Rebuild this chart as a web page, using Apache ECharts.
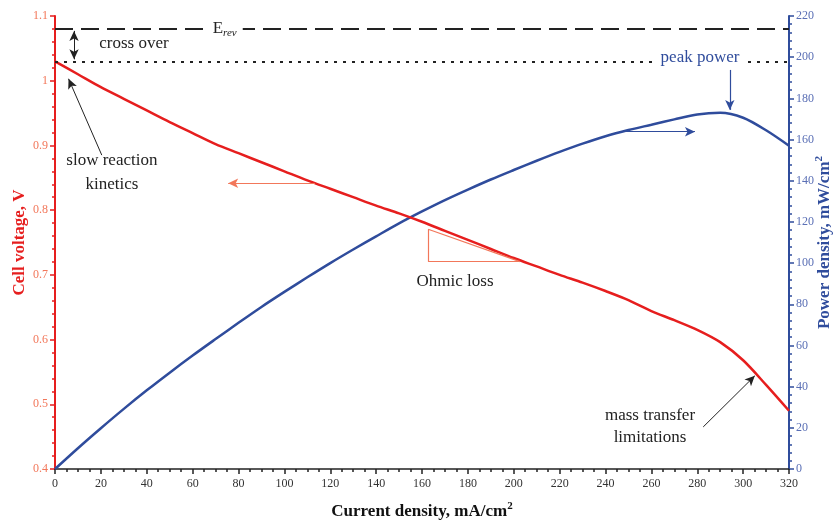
<!DOCTYPE html>
<html>
<head>
<meta charset="utf-8">
<script src="https://cdn.jsdelivr.net/npm/echarts@6/dist/echarts.min.js"></script>
<style>
  html, body { margin: 0; padding: 0; background: #fff; }
  #main { width: 835px; height: 525px; }
</style>
</head>
<body>
<div id="main"></div>
<script>
// current density, mA/cm2
var currentDensity = [0, 10, 20, 30, 40, 50, 60, 70, 80, 90, 100, 110, 120, 130, 140, 150, 160,
    170, 180, 190, 200, 210, 220, 230, 240, 250, 260, 270, 280, 290, 300, 310, 320];
// cell voltage, V
var cellVoltage = [1.030, 1.010, 0.990, 0.972, 0.954, 0.936, 0.919, 0.902, 0.888, 0.874, 0.860,
    0.846, 0.833, 0.820, 0.807, 0.795, 0.782, 0.768, 0.754, 0.740, 0.726, 0.713, 0.700, 0.688,
    0.675, 0.661, 0.644, 0.630, 0.615, 0.596, 0.568, 0.530, 0.490];
// power density, mW/cm2
var powerDensity = [0, 10.1, 19.8, 29.2, 38.2, 46.8, 55.1, 63.1, 71.0, 78.7, 86.0, 93.1, 100.0,
    106.6, 113.0, 119.3, 125.1, 130.6, 135.7, 140.6, 145.2, 149.7, 154.0, 158.0, 161.6, 164.6,
    167.2, 169.8, 172.2, 173.0, 170.6, 164.5, 157.0];

var E_REV = 1.08;
var OCV = 1.03;

var RED = '#e61e1e';
var BLUE = '#2f4c9c';
var SALMON = '#f2775a';
var SERIF = '"Liberation Serif", "DejaVu Serif", serif';

var chart = echarts.init(document.getElementById('main'));

var voltageData = [], powerData = [];
for (var i = 0; i < currentDensity.length; i++) {
    voltageData.push([currentDensity[i], cellVoltage[i]]);
    powerData.push([currentDensity[i], powerDensity[i]]);
}

function seg(a, b, style, s1, s2) {
    return [
        {coord: a, symbol: s1 || 'none', lineStyle: style},
        {coord: b, symbol: s2 || 'none'}
    ];
}

var black = {color: '#222', width: 1, type: 'solid'};
var salmonStyle = {color: SALMON, width: 1.2, type: 'solid'};
var blueThin = {color: BLUE, width: 1.2, type: 'solid'};

chart.setOption({
    animation: false,
    grid: {left: 55, right: 46, top: 16, bottom: 56, containLabel: false, outerBoundsMode: 'none'},
    xAxis: {
        type: 'value', min: 0, max: 320, interval: 20,
        name: 'Current density, mA/cm{sup|2}',
        nameLocation: 'middle', nameGap: 32, nameMoveOverlap: false,
        nameTextStyle: {
            fontFamily: SERIF, fontSize: 17, fontWeight: 'bold', color: '#111',
            rich: {sup: {fontFamily: SERIF, fontSize: 11, fontWeight: 'bold', color: '#111', verticalAlign: 'top', padding: [0, 0, 10, 0]}}
        },
        axisLine: {lineStyle: {color: '#222', width: 1.5}},
        axisTick: {length: 5, lineStyle: {color: '#222', width: 1.5}},
        minorTick: {show: true, splitNumber: 4, length: 3, lineStyle: {color: '#222', width: 1.5}},
        splitLine: {show: false},
        axisLabel: {fontFamily: SERIF, fontSize: 12, color: '#333', margin: 9}
    },
    yAxis: [{
        type: 'value', min: 0.4, max: 1.1, interval: 0.1, position: 'left',
        name: 'Cell voltage, V', nameLocation: 'middle', nameGap: 27, nameMoveOverlap: false,
        nameTextStyle: {fontFamily: SERIF, fontSize: 17, fontWeight: 'bold', color: RED},
        axisLine: {show: true, lineStyle: {color: RED, width: 2}},
        axisTick: {show: true, length: 5, lineStyle: {color: RED, width: 1.5}},
        minorTick: {show: true, splitNumber: 5, length: 3, lineStyle: {color: RED, width: 1.5}},
        splitLine: {show: false},
        axisLabel: {fontFamily: SERIF, fontSize: 12, color: SALMON, margin: 7}
    }, {
        type: 'value', min: 0, max: 220, interval: 20, position: 'right',
        name: 'Power density, mW/cm{sup|2}', nameLocation: 'middle', nameGap: 25, nameMoveOverlap: false,
        nameTextStyle: {
            fontFamily: SERIF, fontSize: 17, fontWeight: 'bold', color: BLUE,
            rich: {sup: {fontFamily: SERIF, fontSize: 11, fontWeight: 'bold', color: BLUE, verticalAlign: 'top', padding: [0, 0, 10, 0]}}
        },
        axisLine: {show: true, lineStyle: {color: BLUE, width: 2}},
        axisTick: {show: true, length: 5, lineStyle: {color: BLUE, width: 1.5}},
        minorTick: {show: true, splitNumber: 5, length: 3, lineStyle: {color: BLUE, width: 1.5}},
        splitLine: {show: false},
        axisLabel: {fontFamily: SERIF, fontSize: 12, color: '#5a6fb5', margin: 7}
    }],
    series: [{
        name: 'Cell voltage',
        type: 'line', yAxisIndex: 0, smooth: 0.3, showSymbol: false,
        lineStyle: {color: RED, width: 2.5},
        data: voltageData, z: 3,
        markLine: {
            silent: true, symbol: 'none', symbolSize: [7, 10],
            label: {show: false},
            data: [
                seg([0, E_REV], [320, E_REV], {color: '#222', width: 2, type: [18, 8]}),
                seg([0, OCV], [320, OCV], {color: '#222', width: 2, type: [3, 6]}),
                seg([8.3, 1.077], [8.3, 1.033], black, 'arrow', 'arrow'),
                seg([20.4, 0.885], [5.9, 1.003], black, 'none', 'arrow'),
                seg([113.3, 0.8416], [75.5, 0.8416], salmonStyle, 'none', 'arrow'),
                seg([162.7, 0.7705], [162.7, 0.7204], salmonStyle),
                seg([162.7, 0.7204], [202.7, 0.7204], salmonStyle),
                seg([162.7, 0.7705], [202.7, 0.7204], salmonStyle),
                seg([282.6, 0.465], [305.1, 0.544], black, 'none', 'arrow')
            ]
        }
    }, {
        name: 'Power density',
        type: 'line', yAxisIndex: 1, smooth: 0.3, showSymbol: false,
        lineStyle: {color: BLUE, width: 2.5},
        data: powerData, z: 2,
        markLine: {
            silent: true, symbol: 'none', symbolSize: [7, 10],
            label: {show: false},
            data: [
                seg([246.3, 163.8], [279, 163.8], blueThin, 'none', 'arrow'),
                seg([294.2, 193.8], [294.2, 174.4], blueThin, 'none', 'arrow')
            ]
        }
    }]
});

// text annotations, anchored in data coordinates
var notes = [
    {at: [74, E_REV], axis: 0, text: 'E{sub|rev}', color: '#222', bg: true},
    {at: [34.4, 1.058], axis: 0, text: 'cross over', color: '#222'},
    {at: [24.8, 0.876], axis: 0, text: 'slow reaction', color: '#222'},
    {at: [24.8, 0.840], axis: 0, text: 'kinetics', color: '#222'},
    {at: [174.4, 0.689], axis: 0, text: 'Ohmic loss', color: '#222'},
    {at: [259.4, 0.483], axis: 0, text: 'mass transfer', color: '#222'},
    {at: [259.4, 0.449], axis: 0, text: 'limitations', color: '#222'},
    {at: [281.2, 1.036], axis: 0, text: 'peak power', color: BLUE, bg: true}
];

var graphics = notes.map(function (n) {
    var p = chart.convertToPixel({xAxisIndex: 0, yAxisIndex: n.axis}, n.at);
    return {
        type: 'text', x: p[0], y: p[1], z: 100,
        style: {
            text: n.text, fill: n.color, fontFamily: SERIF, fontSize: 17,
            align: 'center', verticalAlign: 'middle',
            backgroundColor: n.bg ? '#fff' : null, padding: n.bg ? [0, 6] : 0,
            rich: {sub: {fontFamily: SERIF, fontSize: 11, fontStyle: 'italic', fill: n.color, padding: [8, 0, 0, 0]}}
        }
    };
});
chart.setOption({graphic: graphics});
</script>
</body>
</html>
